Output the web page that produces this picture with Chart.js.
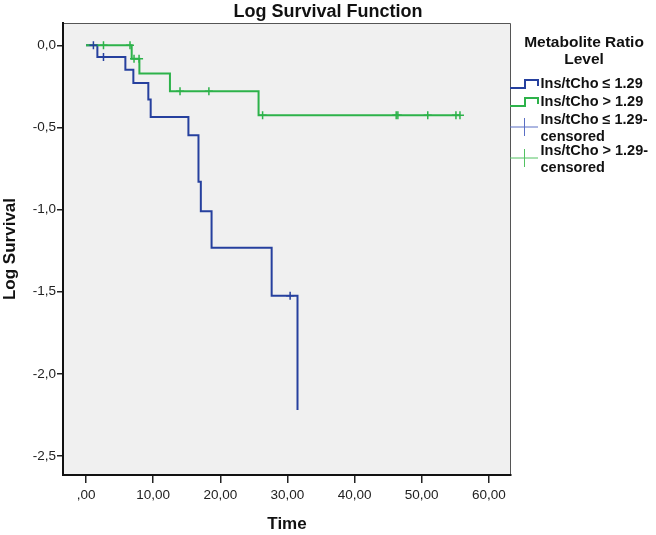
<!DOCTYPE html>
<html>
<head>
<meta charset="utf-8">
<script src="https://cdn.jsdelivr.net/npm/chart.js@4/dist/chart.umd.min.js"></script>
<style>
  html, body { margin: 0; padding: 0; background: #fff; }
  canvas { display: block; }
</style>
</head>
<body>
<canvas id="km" width="656" height="535"></canvas>
<script>
/* Kaplan-Meier log survival by metabolite ratio group, SPSS look. */
const TITLE = "Log Survival Function";
const X_TITLE = "Time";
const Y_TITLE = "Log Survival";
const LEGEND_TITLE = ["Metabolite Ratio", "Level"];
const SERIES_NAMES = ["Ins/tCho \u2264 1.29", "Ins/tCho > 1.29"];

// step points: time where the curve drops, log survival after the drop
const LOW_TIMES = [0, 1.69, 5.86, 7.05, 9.28, 9.63, 15.25, 16.75, 17.1, 18.7, 27.65, 31.5];
const LOW_LOGS = [0, -0.071, -0.148, -0.229, -0.33, -0.436, -0.547, -0.83, -1.01, -1.233, -1.525, -2.22];
const HIGH_TIMES = [0, 6.8, 7.95, 12.5, 25.7, 55.7];
const HIGH_LOGS = [0, -0.081, -0.172, -0.28, -0.426, -0.426];

// censored observation times
const LOW_CENSORED = [1.1, 2.6, 30.4];
const HIGH_CENSORED = [2.6, 6.55, 7.15, 7.9, 14.0, 18.3, 26.3, 46.2, 46.45, 50.9, 55.1, 55.7];

const X_TICKS = [0, 10, 20, 30, 40, 50, 60];
const X_TICK_LABELS = [",00", "10,00", "20,00", "30,00", "40,00", "50,00", "60,00"];
const Y_TICKS = [0, -0.5, -1, -1.5, -2, -2.5];
const Y_TICK_LABELS = ["0,0", "-0,5", "-1,0", "-1,5", "-2,0", "-2,5"];

const BLUE = "#26409e";
const GREEN = "#2db24a";
const FONT = '"Liberation Sans", Arial, sans-serif';

function steps(times, vals) {
  return times.map((t, i) => ({ x: t, y: vals[i] }));
}
function survAt(times, vals, t) {
  let v = vals[0];
  for (let i = 0; i < times.length; i++) if (times[i] <= t) v = vals[i];
  return v;
}
function censored(list, times, vals) {
  return list.map((t) => ({ x: t, y: survAt(times, vals, t) }));
}

// plot panel fill + thin frame on top/right
const panelPlugin = {
  id: "panel",
  beforeDraw(chart) {
    const { ctx, chartArea: a } = chart;
    ctx.save();
    ctx.fillStyle = "#f0f0f0";
    ctx.fillRect(a.left, a.top, a.right - a.left, a.bottom - a.top);
    ctx.strokeStyle = "#555";
    ctx.lineWidth = 1;
    ctx.beginPath();
    ctx.moveTo(a.left, a.top + 0.5);
    ctx.lineTo(a.right - 0.5, a.top + 0.5);
    ctx.lineTo(a.right - 0.5, a.bottom);
    ctx.stroke();
    ctx.restore();
  },
};

// title and the side legend are drawn by hand: SPSS puts them where chart.js won't
const legendPlugin = {
  id: "sideLegend",
  afterDraw(chart) {
    const ctx = chart.ctx;
    ctx.save();
    ctx.fillStyle = "#111";
    ctx.textBaseline = "alphabetic";
    ctx.textAlign = "center";
    ctx.font = "bold 18px " + FONT;
    ctx.fillText(TITLE, 328, 17);

    ctx.font = "bold 15.5px " + FONT;
    ctx.fillText(LEGEND_TITLE[0], 584, 46.5);
    ctx.fillText(LEGEND_TITLE[1], 584, 64);

    ctx.textAlign = "left";
    ctx.font = "bold 14.5px " + FONT;
    const items = [
      { kind: "step", color: BLUE, lines: [SERIES_NAMES[0]], y: 88 },
      { kind: "step", color: GREEN, lines: [SERIES_NAMES[1]], y: 106 },
      { kind: "cross", color: "#5a6fc4", lines: [SERIES_NAMES[0] + "-", "censored"], y: 124 },
      { kind: "cross", color: "#52c262", lines: [SERIES_NAMES[1] + "-", "censored"], y: 155 },
    ];
    items.forEach((it) => {
      ctx.strokeStyle = it.color;
      ctx.beginPath();
      if (it.kind === "step") {
        ctx.lineWidth = 2;
        ctx.moveTo(510, it.y);
        ctx.lineTo(525, it.y);
        ctx.lineTo(525, it.y - 8);
        ctx.lineTo(538, it.y - 8);
        ctx.lineTo(538, it.y - 2);
      } else {
        ctx.lineWidth = 1;
        const cy = it.y + 3;
        ctx.moveTo(510, cy);
        ctx.lineTo(538, cy);
        ctx.moveTo(524.5, cy - 9);
        ctx.lineTo(524.5, cy + 9);
      }
      ctx.stroke();
      it.lines.forEach((txt, i) => ctx.fillText(txt, 540.5, it.y + i * 16.5));
    });
    ctx.restore();
  },
};

new Chart(document.getElementById("km"), {
  type: "scatter",
  data: {
    datasets: [
      {
        data: censored(HIGH_CENSORED, HIGH_TIMES, HIGH_LOGS),
        pointStyle: "cross", pointRadius: 4, borderColor: GREEN, borderWidth: 1.5, showLine: false,
      },
      {
        data: censored(LOW_CENSORED, LOW_TIMES, LOW_LOGS),
        pointStyle: "cross", pointRadius: 4, borderColor: BLUE, borderWidth: 1.5, showLine: false,
      },
      {
        data: steps(HIGH_TIMES, HIGH_LOGS),
        showLine: true, stepped: "before", borderColor: GREEN, borderWidth: 2, pointRadius: 0,
      },
      {
        data: steps(LOW_TIMES, LOW_LOGS),
        showLine: true, stepped: "before", borderColor: BLUE, borderWidth: 2, pointRadius: 0,
      },
    ],
  },
  options: {
    responsive: false,
    animation: false,
    devicePixelRatio: 1,
    layout: { padding: { left: 0, top: 23, right: 145, bottom: 0 } },
    plugins: { legend: { display: false }, tooltip: { enabled: false } },
    scales: {
      x: {
        type: "linear",
        min: -3.43,
        max: 63.3,
        afterBuildTicks: (s) => { s.ticks = X_TICKS.map((v) => ({ value: v })); },
        afterFit: (s) => { s.height = 60; },
        ticks: {
          padding: 4,
          color: "#222",
          font: { family: FONT, size: 13.5 },
          callback: (v) => X_TICK_LABELS[X_TICKS.indexOf(v)],
        },
        grid: { drawOnChartArea: false, tickLength: 8, color: "#222", lineWidth: 1.5 },
        border: { color: "#111", width: 2 },
        title: { display: true, text: X_TITLE, color: "#111", font: { family: FONT, size: 17, weight: "bold" }, padding: 0 },
      },
      y: {
        type: "linear",
        min: -2.616,
        max: 0.136,
        afterBuildTicks: (s) => { s.ticks = Y_TICKS.slice().reverse().map((v) => ({ value: v })); },
        afterFit: (s) => { s.width = 63; },
        ticks: {
          padding: 1,
          color: "#222",
          font: { family: FONT, size: 13.5 },
          callback: (v) => Y_TICK_LABELS[Y_TICKS.indexOf(v)],
        },
        grid: { drawOnChartArea: false, tickLength: 6, color: "#222", lineWidth: 1.5 },
        border: { color: "#111", width: 2 },
        title: { display: true, text: Y_TITLE, color: "#111", font: { family: FONT, size: 17, weight: "bold" }, padding: 0 },
      },
    },
  },
  plugins: [panelPlugin, legendPlugin],
});
</script>
</body>
</html>
